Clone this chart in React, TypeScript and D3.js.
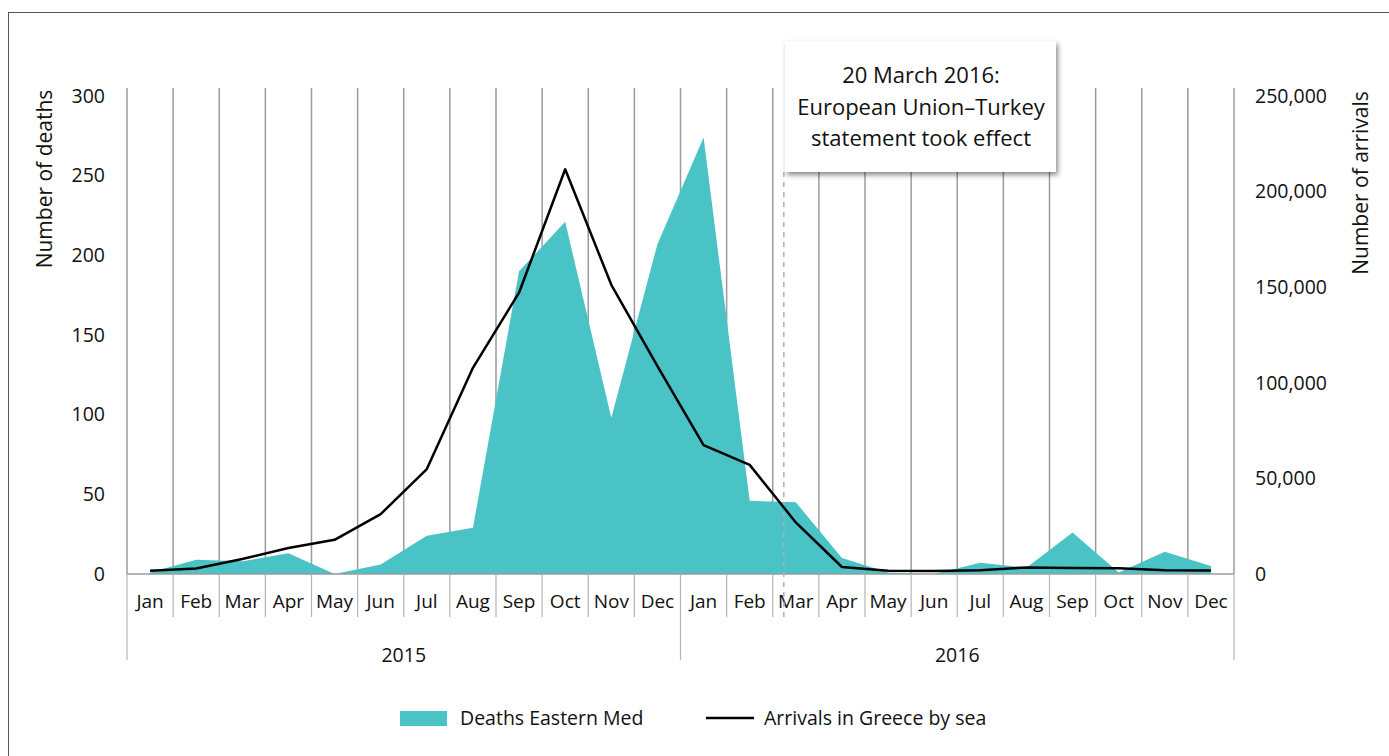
import { useEffect, useRef } from 'react';
import * as d3 from 'd3';

// month labels, two years of monthly data
const months = ['Jan','Feb','Mar','Apr','May','Jun','Jul','Aug','Sep','Oct','Nov','Dec'];
const years = ['2015', '2016'];
// Deaths in the Eastern Mediterranean (left axis)
const deaths = [1, 9, 8, 13, 0, 6, 24, 29, 190, 221, 98, 207, 274, 46, 45, 10, 1, 0, 7, 4, 26, 1, 14, 5];
// Arrivals in Greece by sea (right axis)
const arrivals = [1694, 2873, 7874, 13556, 17889, 31318, 54899, 107843, 147123, 211663, 151249, 108742,
  67415, 57066, 26971, 3650, 1721, 1554, 1920, 3447, 3080, 2970, 1991, 1784];
const deathTicks = [0, 50, 100, 150, 200, 250, 300];
const arrivalTicks = [0, 50000, 100000, 150000, 200000, 250000];
const noteLines = ['20 March 2016:', 'European Union–Turkey', 'statement took effect'];

const W = 1389, H = 756;
const left = 127, right = 1234, top = 96, bottom = 574;
const teal = '#49c3c6';
const grid = '#9b9b9f';
const font = "'Open Sans', sans-serif";

export default function App() {
  const gRef = useRef<SVGGElement>(null);

  const labels = years.flatMap(y => months.map(m => `${m} ${y}`));
  const x = d3.scaleBand<string>().domain(labels).range([left, right]);
  const cx = (i: number) => x(labels[i])! + x.bandwidth() / 2;
  const yL = d3.scaleLinear().domain([0, 300]).range([bottom, top]);
  const yR = d3.scaleLinear().domain([0, 250000]).range([bottom, top]);

  const area = d3.area<number>().x((d, i) => cx(i)).y0(yL(0)).y1(d => yL(d));
  const line = d3.line<number>().x((d, i) => cx(i)).y(d => yR(d));

  // dashed marker for 20 March 2016, drawn just inside the March band
  const markX = x(labels[14])! + x.bandwidth() * 0.24;

  useEffect(() => {
    if (!gRef.current) return;
    const g = d3.select(gRef.current);
    g.selectAll('*').remove();
    g.append('g')
      .attr('transform', `translate(${left - 22},0)`)
      .call(d3.axisLeft(yL).tickValues(deathTicks).tickSize(0).tickPadding(0))
      .call(s => s.select('.domain').remove())
      .selectAll('text').attr('font-size', 19.5).attr('font-family', font).attr('fill', '#111');
    g.append('g')
      .attr('transform', `translate(${right + 21},0)`)
      .call(d3.axisRight(yR).tickValues(arrivalTicks).tickSize(0).tickPadding(0).tickFormat(d3.format(',')))
      .call(s => s.select('.domain').remove())
      .selectAll('text').attr('font-size', 19.5).attr('font-family', font).attr('fill', '#111');
  }, []);

  const bw = x.bandwidth();

  return (
    <svg width={W} height={H} style={{ position: 'absolute', left: 0, top: 0 }}>
      <defs>
        <filter id="shadow" x="-10%" y="-10%" width="130%" height="140%">
          <feDropShadow dx="2" dy="3" stdDeviation="2.5" floodColor="#000" floodOpacity="0.45" />
        </filter>
      </defs>
      <rect x={0} y={0} width={W} height={H} fill="#fff" />
      <rect x={8.5} y={12.5} width={W + 20} height={H + 20} fill="none" stroke="#555" strokeWidth={1} />

      {/* vertical gridlines at month boundaries */}
      {labels.map(l => (
        <line key={l} x1={x(l)!} x2={x(l)!} y1={88} y2={bottom} stroke={grid} strokeWidth={1.5} />
      ))}
      <line x1={right} x2={right} y1={88} y2={bottom} stroke={grid} strokeWidth={1.5} />

      <path d={area(deaths)!} fill={teal} />

      {/* x axis */}
      <line x1={left} x2={right} y1={bottom} y2={bottom} stroke={grid} strokeWidth={1.5} />
      {labels.map((l, i) => (
        <line key={'t' + l} x1={x(l)!} x2={x(l)!} y1={bottom} y2={i % 12 === 0 ? 660 : 617}
          stroke="#b5b5b8" strokeWidth={1.2} />
      ))}
      <line x1={right} x2={right} y1={bottom} y2={660} stroke="#b5b5b8" strokeWidth={1.2} />
      {labels.map((l, i) => (
        <text key={'m' + l} x={cx(i)} y={608} textAnchor="middle" fontSize={19} fontFamily={font} fill="#111">
          {months[i % 12]}
        </text>
      ))}
      {years.map((yr, j) => (
        <text key={yr} x={left + bw * (12 * j + 6)} y={662} textAnchor="middle" fontSize={19.5} fontFamily={font} fill="#111">
          {yr}
        </text>
      ))}

      <line x1={markX} x2={markX} y1={172} y2={622} stroke="#b0b0b0" strokeWidth={1.5} strokeDasharray="5,5" />

      <path d={line(arrivals)!} fill="none" stroke="#000" strokeWidth={2.5} strokeLinejoin="round" />

      <g ref={gRef} />

      <text transform={`translate(52,179) rotate(-90)`} textAnchor="middle" fontSize={21} fontFamily={font} fill="#111">
        Number of deaths
      </text>
      <text transform={`translate(1368,183) rotate(-90)`} textAnchor="middle" fontSize={21} fontFamily={font} fill="#111">
        Number of arrivals
      </text>

      {/* annotation box */}
      <rect x={785} y={41} width={271} height={131} fill="#fff" filter="url(#shadow)" />
      {noteLines.map((t, i) => (
        <text key={t} x={921} y={83 + i * 31.5} textAnchor="middle" fontSize={22} fontFamily={font} fill="#111">
          {t}
        </text>
      ))}

      {/* legend */}
      <rect x={400} y={711} width={47} height={15} fill={teal} />
      <text x={460} y={725} fontSize={19.5} fontFamily={font} fill="#111">Deaths Eastern Med</text>
      <line x1={706} x2={754} y1={718} y2={718} stroke="#000" strokeWidth={2.5} />
      <text x={764} y={725} fontSize={19.5} fontFamily={font} fill="#111">Arrivals in Greece by sea</text>
    </svg>
  );
}
